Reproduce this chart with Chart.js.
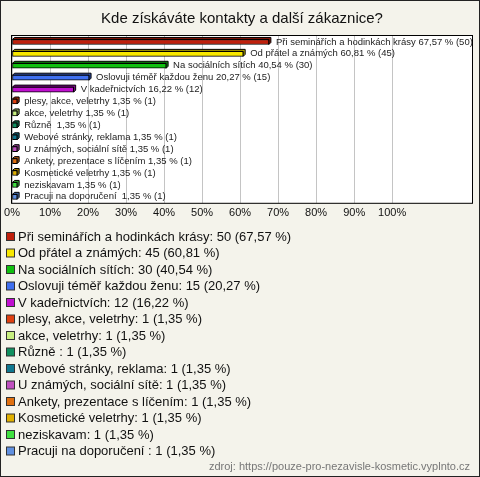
<!DOCTYPE html>
<html>
<head>
<meta charset="utf-8">
<script src="https://cdn.jsdelivr.net/npm/chart.js@4"></script>
<style>
  html, body { margin: 0; padding: 0; background: #f4f3eb; }
  #box { width: 480px; height: 477px; }
</style>
</head>
<body>
<div id="box"><canvas id="myChart" width="480" height="477"></canvas></div>
<script>
// data
const categories = [
  'Při seminářích a hodinkách krásy',
  'Od přátel a známých',
  'Na sociálních sítích',
  'Oslovuji téměř každou ženu',
  'V kadeřnictvích',
  'plesy, akce, veletrhy',
  'akce, veletrhy',
  'Různě ',
  'Webové stránky, reklama',
  'U známých, sociální sítě',
  'Ankety, prezentace s líčením',
  'Kosmetické veletrhy',
  'neziskavam',
  'Pracuji na doporučení '
];
const counts = [50, 45, 30, 15, 12, 1, 1, 1, 1, 1, 1, 1, 1, 1];
const percents = [67.57, 60.81, 40.54, 20.27, 16.22, 1.35, 1.35, 1.35, 1.35, 1.35, 1.35, 1.35, 1.35, 1.35];
const tickValues = [0, 10, 20, 30, 40, 50, 60, 70, 80, 90, 100];
const colors = ['#c0200c', '#f8e800', '#10c010', '#4070f0', '#c010d0', '#e04010', '#c8f080',
                '#109060', '#107890', '#c050c0', '#e07010', '#e0b000', '#40e040', '#6090e0'];

const fmt = v => v.toFixed(2).replace('.', ',');

function darker(hex, f) {
  const n = parseInt(hex.slice(1), 16);
  const r = Math.round(((n >> 16) & 255) * f), g = Math.round(((n >> 8) & 255) * f), b = Math.round((n & 255) * f);
  return 'rgb(' + r + ',' + g + ',' + b + ')';
}

// plot background, frame, 3d depth of the bars
const decor = {
  id: 'decor',
  beforeDraw(chart) {
    const c = chart.ctx, a = chart.chartArea;
    c.save();
    c.fillStyle = '#ffffff';
    c.fillRect(a.left, a.top, a.right - a.left, a.bottom - a.top);
    c.restore();
  },
  beforeDatasetsDraw(chart) {
    const c = chart.ctx, d = 2;
    const meta = chart.getDatasetMeta(0);
    c.save();
    c.lineWidth = 1;
    c.strokeStyle = '#000';
    meta.data.forEach((bar, i) => {
      const x0 = bar.base, x1 = bar.x, y0 = bar.y - bar.height / 2, y1 = bar.y + bar.height / 2;
      c.fillStyle = darker(colors[i], 0.7);
      c.beginPath();
      c.moveTo(x0, y0); c.lineTo(x0 + d, y0 - d); c.lineTo(x1 + d, y0 - d);
      c.lineTo(x1 + d, y1 - d); c.lineTo(x1, y1); c.lineTo(x1, y0); c.closePath();
      c.fill(); c.stroke();
    });
    c.restore();
  },
  afterDatasetsDraw(chart) {
    const c = chart.ctx, a = chart.chartArea;
    const meta = chart.getDatasetMeta(0);
    c.save();
    c.font = '9.5px "Liberation Sans", Arial, sans-serif';
    c.fillStyle = '#222';
    c.textBaseline = 'middle';
    meta.data.forEach((bar, i) => {
      c.fillText(categories[i] + ' ' + fmt(percents[i]) + ' % (' + counts[i] + ')', bar.x + 7, bar.y);
    });
    c.strokeStyle = '#000';
    c.lineWidth = 1;
    c.strokeRect(a.left - 0.5, a.top - 0.5, a.right - a.left + 1, a.bottom - a.top + 1);
    c.restore();
  },
  afterDraw(chart) {
    const c = chart.ctx;
    c.save();
    // legend
    c.font = '13px "Liberation Sans", Arial, sans-serif';
    c.textBaseline = 'middle';
    categories.forEach((cat, i) => {
      const y = 237 + i * 16.5;
      c.fillStyle = colors[i];
      c.fillRect(6.5, y - 4.5, 8, 8);
      c.strokeStyle = '#333';
      c.strokeRect(6.5, y - 4.5, 8, 8);
      c.fillStyle = '#111';
      c.fillText(cat + ': ' + counts[i] + ' (' + fmt(percents[i]) + ' %)', 18, y);
    });
    // source
    c.font = '11px "Liberation Sans", Arial, sans-serif';
    c.fillStyle = '#777';
    c.textAlign = 'right';
    c.fillText('zdroj: https://pouze-pro-nezavisle-kosmetic.vyplnto.cz', 470, 467);
    // outer border
    c.strokeStyle = '#222';
    c.strokeRect(0.5, 0.5, 479, 476);
    c.restore();
  }
};

const ctx = document.getElementById('myChart');
new Chart(ctx, {
  type: 'bar',
  data: {
    labels: categories,
    datasets: [{
      data: percents,
      backgroundColor: colors,
      borderColor: '#000',
      borderWidth: 1,
      borderSkipped: false,
      barThickness: 5
    }]
  },
  plugins: [decor],
  options: {
    indexAxis: 'y',
    responsive: false,
    animation: false,
    devicePixelRatio: 1,
    layout: { padding: { left: 12, top: 0, right: 8, bottom: 253 } },
    plugins: {
      legend: { display: false },
      tooltip: { enabled: false },
      title: {
        display: true,
        text: 'Kde získáváte kontakty a další zákaznice?',
        color: '#111',
        font: { family: '"Liberation Sans", Arial, sans-serif', size: 15, weight: 'normal' },
        padding: { top: 10, bottom: 8 }
      }
    },
    scales: {
      x: {
        min: 0,
        max: 121,
        afterBuildTicks: scale => { scale.ticks = tickValues.map(v => ({ value: v })); },
        grid: { color: '#c4c4c4', drawTicks: false },
        border: { display: false },
        ticks: {
          padding: 4,
          color: '#111',
          font: { family: '"Liberation Sans", Arial, sans-serif', size: 11 },
          callback: v => v + '%'
        }
      },
      y: {
        display: false,
        grid: { display: false }
      }
    }
  }
});
</script>
</body>
</html>
